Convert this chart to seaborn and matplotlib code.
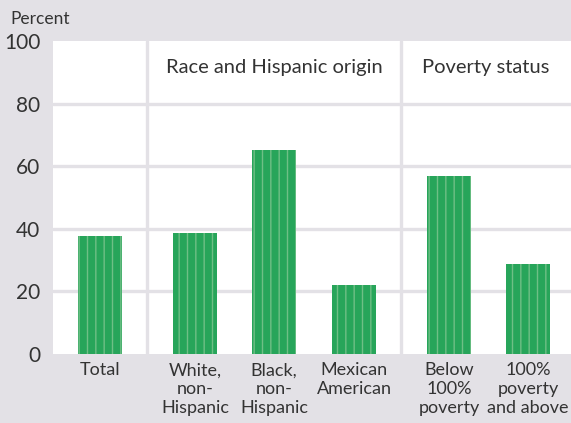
import matplotlib
matplotlib.use("Agg")
import matplotlib.pyplot as plt
import seaborn as sns
import pandas as pd
import numpy as np

# ---- data ----
categories = ["Total", "White,\nnon-\nHispanic", "Black,\nnon-\nHispanic",
              "Mexican\nAmerican", "Below\n100%\npoverty", "100%\npoverty\nand above"]
values = [37.8, 38.7, 65.1, 21.9, 56.8, 28.9]
group_labels = ["Race and Hispanic origin", "Poverty status"]
y_ticks = [0, 20, 40, 60, 80, 100]
y_label = "Percent"

# ---- layout (not data) ----
positions = [1.07, 3.23, 5.02, 6.84, 9.0, 10.8]
separators = [2.14, 7.91]
group_centers = [(2.14 + 7.91) / 2, (7.91 + 11.77) / 2]
bar_w = 1.0

BG = "#e3e1e6"
GREEN = "#27a55a"
STRIPE = "#6fbf86"
TXT = "#333333"

sns.set_theme(style="white")
plt.rcParams["font.family"] = ["Lato", "DejaVu Sans"]
plt.rcParams["hatch.linewidth"] = 1.0

fig = plt.figure(figsize=(5.71, 4.23), dpi=100, facecolor=BG)
ax = fig.add_axes([53 / 571, (423 - 354) / 423, (571 - 53) / 571, (354 - 41) / 423])
ax.set_facecolor("white")

df = pd.DataFrame({"pos": positions, "value": values})
min_gap = np.min(np.diff(sorted(positions)))
sns.barplot(data=df, x="pos", y="value", native_scale=True, width=bar_w / min_gap,
            color=GREEN, saturation=1, ax=ax, zorder=3, errorbar=None)
for p in ax.patches:
    p.set_facecolor(GREEN)
    p.set_edgecolor(STRIPE)
    p.set_linewidth(0)
    p.set_hatch("||")

ax.set_xlim(0, 518 / 44)
ax.set_ylim(0, 100)
ax.set_yticks(y_ticks)
ax.set_yticklabels([str(t) for t in y_ticks], fontsize=15, color=TXT)
ax.set_xticks(positions)
ax.set_xticklabels(categories, fontsize=13, color=TXT, linespacing=1.2)
ax.tick_params(axis="both", length=0)
ax.tick_params(axis="x", pad=6)
ax.tick_params(axis="y", pad=9)
ax.set_xlabel("")
ax.set_ylabel("")

for t in y_ticks[1:-1]:
    ax.axhline(t, color=BG, lw=2.4, zorder=1)
for s in separators:
    ax.axvline(s, color=BG, lw=2.4, zorder=1)
for sp in ax.spines.values():
    sp.set_visible(False)

for c, g in zip(group_centers, group_labels):
    ax.text(c, 91.5, g, ha="center", va="center", fontsize=14.5, color=TXT)

fig.text(10 / 571, 1 - 19 / 423, y_label, ha="left", va="center", fontsize=12.5, color=TXT)

fig.savefig("out.png", dpi=100, facecolor=BG)
